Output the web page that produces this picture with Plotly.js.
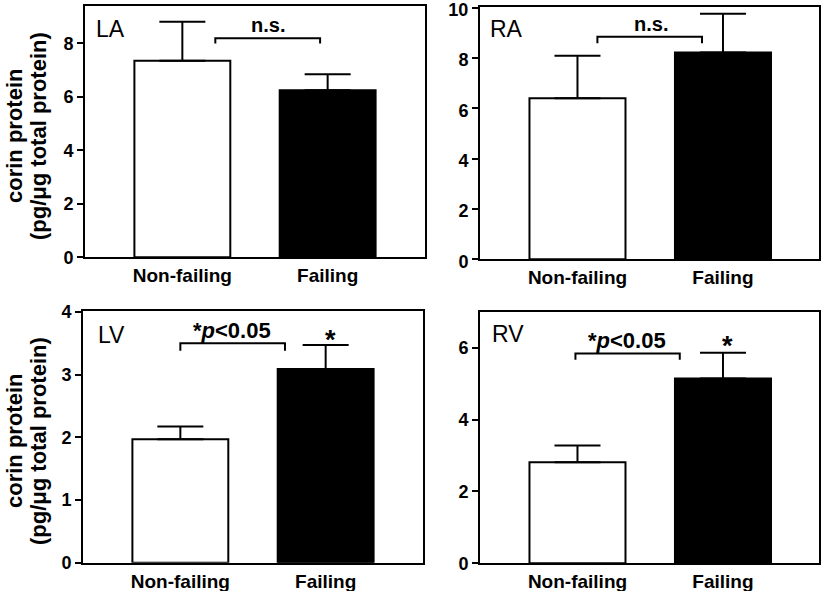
<!DOCTYPE html>
<html>
<head>
<meta charset="utf-8">
<script src="https://cdn.plot.ly/plotly-3.0.1.min.js"></script>
<style>html,body{margin:0;padding:0;background:#fff}#chart{width:825px;height:591px}</style>
</head>
<body>
<div id="chart"></div>
<script>
// ---- data ----
const categories = ['Non-failing', 'Failing'];
const panelNames = ['LA', 'RA', 'LV', 'RV'];
const laMean = [7.35, 6.25];
const laErr  = [1.46, 0.60];
const raMean = [6.40, 8.22];
const raErr  = [1.69, 1.54];
const lvMean = [1.97, 3.09];
const lvErr  = [0.20, 0.38];
const rvMean = [2.81, 5.14];
const rvErr  = [0.47, 0.72];
const yTitleLines = ['corin protein', '(pg/μg total protein)'];
const sigLabels = ['n.s.', 'n.s.', '*<i>p</i>&lt;0.05', '*<i>p</i>&lt;0.05'];

const FONT = 'Liberation Sans, Arial, Helvetica, sans-serif';
const means = [laMean, raMean, lvMean, rvMean];
const errs = [laErr, raErr, lvErr, rvErr];
const axIds = ['', '2', '3', '4'];

const traces = means.map((m, i) => ({
  type: 'bar',
  x: categories,
  y: m,
  xaxis: 'x' + axIds[i],
  yaxis: 'y' + axIds[i],
  width: 0.66,
  marker: {color: ['#ffffff', '#000000'], line: {color: '#000', width: 2}},
  error_y: {type: 'data', array: errs[i], arrayminus: [0, 0], symmetric: false,
            color: '#000', thickness: 2, width: 23},
  showlegend: false,
  hoverinfo: 'x+y'
}));

const W = 825, H = 591;
function xd(a, b) { return [a / W, b / W]; }
function yd(top, bottom) { return [(H - bottom) / H, (H - top) / H]; }

function xAxis(extra) {
  return Object.assign({
    type: 'category', showline: true, linewidth: 2, linecolor: '#000', mirror: true,
    ticks: '', showgrid: false, zeroline: false, fixedrange: true,
    tickfont: {family: FONT, size: 19, color: '#000', weight: 700}
  }, extra);
}
function yAxis(extra) {
  return Object.assign({
    showline: true, linewidth: 2, linecolor: '#000', mirror: true,
    ticks: 'outside', ticklen: 6, tickwidth: 2, tickcolor: '#000',
    showgrid: false, zeroline: false, fixedrange: true,
    ticklabeloverflow: 'allow', tick0: 0, tickmode: 'linear',
    tickfont: {family: FONT, size: 18, color: '#000', weight: 700}
  }, extra);
}

const layout = {
  width: W, height: H,
  margin: {l: 0, r: 0, t: 0, b: 0},
  paper_bgcolor: '#fff', plot_bgcolor: '#fff',
  xaxis:  xAxis({domain: xd(85, 425),  range: [-0.67, 1.67], anchor: 'y'}),
  yaxis:  yAxis({domain: yd(6, 257.3), range: [0, 9.4], dtick: 2, anchor: 'x'}),
  xaxis2: xAxis({domain: xd(480, 819), range: [-0.67, 1.66], anchor: 'y2'}),
  yaxis2: yAxis({domain: yd(7.2, 259.3), range: [0, 10.02], dtick: 2, anchor: 'x2', ticklabelshift: 2}),
  xaxis3: xAxis({domain: xd(83, 423),  range: [-0.67, 1.67], anchor: 'y3'}),
  yaxis3: yAxis({domain: yd(311.2, 562.7), range: [0, 4.01], dtick: 1, anchor: 'x3'}),
  xaxis4: xAxis({domain: xd(480, 819), range: [-0.67, 1.66], anchor: 'y4'}),
  yaxis4: yAxis({domain: yd(311.7, 563.3), range: [0, 7], dtick: 2, anchor: 'x4'}),
  shapes: [],
  annotations: []
};

// significance brackets [x0, x1, yTop, yLeg]
const brackets = [
  [0.227, 0.948, 8.19, 8.0],
  [0.137, 0.856, 8.85, 8.59],
  [0.0, 0.72, 3.50, 3.38],
  [-0.014, 0.703, 5.84, 5.66]
];
// significance label positions [x, y]
const sigPos = [[0.59, 8.68], [0.507, 9.35], [0.354, 3.71], [0.343, 6.21]];
// panel label positions [x, y]
const namePos = [[-0.605, 8.53], [-0.616, 9.16], [-0.584, 3.63], [-0.60, 6.38]];

brackets.forEach((b, i) => {
  const xr = 'x' + axIds[i], yr = 'y' + axIds[i];
  layout.shapes.push({
    type: 'path', xref: xr, yref: yr,
    path: `M ${b[0]} ${b[3]} L ${b[0]} ${b[2]} L ${b[1]} ${b[2]} L ${b[1]} ${b[3]}`,
    line: {color: '#000', width: 2}
  });
  layout.annotations.push({
    xref: xr, yref: yr, x: sigPos[i][0], y: sigPos[i][1], text: sigLabels[i],
    showarrow: false, xanchor: 'center', yanchor: 'middle',
    font: {family: FONT, size: i < 2 ? 20 : 22, color: '#000', weight: 700}
  });
  layout.annotations.push({
    xref: xr, yref: yr, x: namePos[i][0], y: namePos[i][1], text: panelNames[i],
    showarrow: false, xanchor: 'left', yanchor: 'middle',
    font: {family: FONT, size: 23, color: '#000'}
  });
});

// asterisks above Failing bars (LV, RV)
[[2, 1.03, 3.55], [3, 1.03, 6.05]].forEach(([i, x, y]) => {
  layout.annotations.push({
    xref: 'x' + axIds[i], yref: 'y' + axIds[i], x: x, y: y, text: '*',
    showarrow: false, xanchor: 'center', yanchor: 'middle',
    font: {family: FONT, size: 27, color: '#000', weight: 700}
  });
});

// y-axis titles (left column), two lines each
[136, 441].forEach(py => {
  [[14, 0], [38, 1]].forEach(([px, li]) => {
    layout.annotations.push({
      xref: 'paper', yref: 'paper', x: px / W, y: (H - py) / H, text: yTitleLines[li],
      textangle: -90, showarrow: false, xanchor: 'center', yanchor: 'middle',
      font: {family: FONT, size: 22, color: '#000', weight: 700}
    });
  });
});

Plotly.newPlot('chart', traces, layout, {displayModeBar: false, staticPlot: true});
</script>
</body>
</html>
